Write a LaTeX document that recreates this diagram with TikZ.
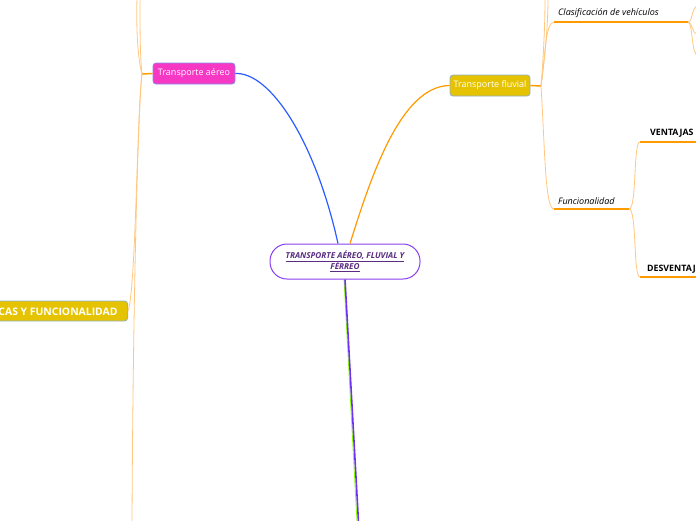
\documentclass[tikz,border=0pt]{standalone}
\usepackage{fontspec}
\setmainfont{Open Sans}
\usetikzlibrary{calc}
\definecolor{cpurple}{HTML}{8A3FF0}
\definecolor{ctext}{HTML}{5A2D82}
\definecolor{cblue}{HTML}{2B5CFF}
\definecolor{corange}{HTML}{FF9A00}
\definecolor{clight}{HTML}{FFC77F}
\definecolor{cpink}{HTML}{F638C4}
\definecolor{cpinkb}{HTML}{8C8CE8}
\definecolor{cgold}{HTML}{E6C300}
\definecolor{cgoldb}{HTML}{8FB3C9}
\definecolor{cgreen}{HTML}{88FF00}
\tikzset{
  mainbox/.style={draw=cpurple, line width=1pt, fill=white, rounded corners=17pt,
    minimum width=150pt, minimum height=35pt, align=center, inner sep=0pt,
    font=\fontsize{8.2}{11}\selectfont\bfseries\itshape, text=ctext},
  topicbox/.style={rounded corners=3pt, line width=0.8pt, minimum height=21pt,
    inner sep=0pt, text=white, font=\fontsize{9}{10}\selectfont},
  thinline/.style={draw=clight, line width=0.8pt},
  stubline/.style={draw=corange, line width=1.5pt},
  uline/.style={draw=corange, line width=1.5pt},
  subtext/.style={font=\fontsize{9}{10}\selectfont\itshape, anchor=west, inner sep=0pt, text=black},
  bigtext/.style={font=\fontsize{8.8}{10}\selectfont\bfseries, anchor=west, inner sep=0pt, text=black}
}
\begin{document}
\begin{tikzpicture}[x=1pt,y=-1pt]
\useasboundingbox (0,0) rectangle (696,520);
\clip (0,0) rectangle (696,520);

% nodes
\node[mainbox] (center) at (345,261.5) {\underline{TRANSPORTE AÉREO, FLUVIAL Y}\\[0pt]\underline{FÉRREO}};
\node[topicbox, draw=cpinkb, fill=cpink, minimum width=82pt] (aereo) at (194,73.5) {Transporte aéreo};
\node[topicbox, draw=cgoldb, fill=cgold, minimum width=80pt] (fluvial) at (490,85.5) {Transporte fluvial};
\node[topicbox, draw=cgoldb, fill=cgold, minimum height=20pt, anchor=east, inner xsep=10pt,
  font=\fontsize{10.4}{11}\selectfont\bfseries] (left) at (128,311) {CARACTERÍSTICAS Y FUNCIONALIDAD};

\coordinate (bot) at (358.5,522);
\coordinate (botg) at (357,522);
\coordinate (lj) at (142,74);
\coordinate (lt1) at (137,-2);
\coordinate (lt2) at (140,-2);
\coordinate (lb) at (132,522);
\coordinate (rj) at (541,86);
\coordinate (rt1) at (545,-2);
\coordinate (rt2) at (548,-2);
\coordinate (c1) at (554,22);
\coordinate (c2) at (688,22);
\coordinate (f1) at (554,209);
\coordinate (f2) at (629,209);
\coordinate (v1) at (640,142);
\coordinate (v2) at (698,142);
\coordinate (d1) at (640,277);
\coordinate (d2) at (698,277);
\coordinate (e1) at (698,6);
\coordinate (e2) at (698,34);
\coordinate (e3) at (698,56);

% main connectors
\draw[cblue, line width=1.2pt] (aereo.east) .. controls (270,72) and (315,140) .. ([xshift=-7pt]center.north);
\draw[corange, line width=1.2pt] ([xshift=5pt]center.north) .. controls (370,180) and (400,86) .. (fluvial.west);
\draw[cgreen, line width=0.8pt] ([xshift=-1pt]center.south) -- (botg);
\draw[cpurple!80!blue, line width=1.6pt] (center.south) -- (bot);

% left tree
\draw[stubline] (aereo.west) -- (lj);
\draw[thinline] (lj) .. controls (138,60) and (136,30) .. (lt1);
\draw[thinline] (lj) .. controls (140,55) and (140,30) .. (lt2);
\draw[thinline] (lj) .. controls (137,110) and (136,290) .. (left.east);
\draw[thinline] (lj) .. controls (138,110) and (133,300) .. (lb);

% right tree
\draw[stubline] (fluvial.east) -- (rj);
\draw[thinline] (rj) .. controls (545,60) and (545,22) .. (c1);
\draw[thinline] (rj) .. controls (544,50) and (545,20) .. (rt1);
\draw[thinline] (rj) .. controls (546,50) and (548,20) .. (rt2);
\draw[thinline] (rj) .. controls (545,150) and (545,209) .. (f1);

\draw[uline] (c1) -- (c2);
\node[subtext] (clas) at (558,13) {Clasificación de vehículos};
\draw[thinline] (c2) .. controls (693,22) and (691,7) .. (e1);
\draw[thinline] (c2) .. controls (693,22) and (691,34) .. (e2);
\draw[thinline] (c2) .. controls (693,23) and (691,54) .. (e3);

\draw[uline] (f1) -- (f2);
\node[subtext] (func) at (558,201) {Funcionalidad};
\draw[thinline] (f2) .. controls (637,209) and (633,142) .. (v1);
\draw[thinline] (f2) .. controls (637,209) and (633,277) .. (d1);
\draw[uline] (v1) -- (v2);
\draw[uline] (d1) -- (d2);
\node[bigtext] (vent) at (650,133) {VENTAJAS};
\node[bigtext] (desv) at (647,269) {DESVENTAJAS};
\end{tikzpicture}
\end{document}
